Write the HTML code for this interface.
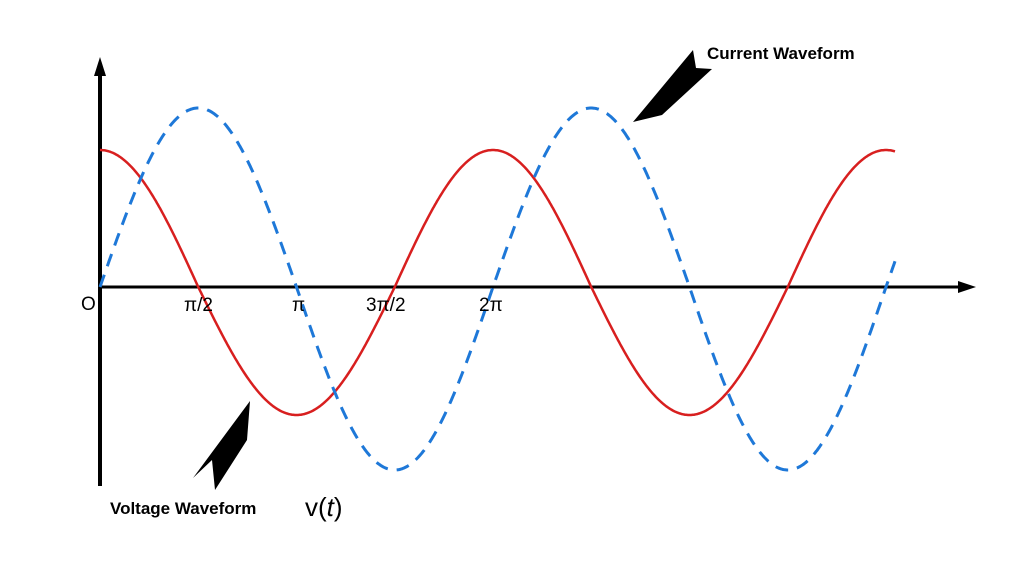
<!DOCTYPE html>
<html><head><meta charset="utf-8"><style>
html,body{margin:0;padding:0;background:#fff;}
svg{display:block;}
text{font-family:"Liberation Sans",sans-serif;}
</style></head><body>
<svg id="s" width="1024" height="576" viewBox="0 0 1024 576">
<rect width="1024" height="576" fill="#fff"/>
<line x1="100" y1="70" x2="100" y2="486" stroke="#000" stroke-width="4"/>
<polygon points="100,57 94,76 106,76" fill="#000"/>
<line x1="100" y1="287" x2="962" y2="287" stroke="#000" stroke-width="3"/>
<polygon points="976,287 958,281 958,293" fill="#000"/>
<path id="red" fill="none" stroke="#d81f1f" stroke-width="2.5"/>
<path id="blue" fill="none" stroke="#1e78d8" stroke-width="3" stroke-dasharray="13,9"/>
<g font-size="19" fill="#000">
<text x="81" y="310">O</text>
<text x="184" y="311">π/2</text>
<text x="292" y="311">π</text>
<text x="366" y="311">3π/2</text>
<text x="479" y="311">2π</text>
</g>
<polygon points="633,122 693,50 696,68 712,69 662,115" fill="#000"/>
<polygon points="250,401 247,440 215,490 212,460 193,478" fill="#000"/>
<text x="707" y="59" font-size="17" font-weight="bold">Current Waveform</text>
<text x="110" y="514" font-size="17" font-weight="bold">Voltage Waveform</text>
<text x="305" y="516" font-size="26" font-family="Liberation Sans">v(<tspan font-style="italic">t</tspan>)</text>
</svg>
<script>
var r="",b="";
for(var x=100;x<=895;x+=1){
 var th=2*Math.PI*(x-100)/393;
 var c=Math.cos(th),s=Math.sin(th);
 var yr=287-c*(c>0?137:128);
 var yb=287-s*(s>0?179:183);
 r+=(x==100?"M":"L")+x+","+yr.toFixed(1);
 b+=(x==100?"M":"L")+x+","+yb.toFixed(1);
}
document.getElementById("red").setAttribute("d",r);
document.getElementById("blue").setAttribute("d",b);
</script>
</body></html>
